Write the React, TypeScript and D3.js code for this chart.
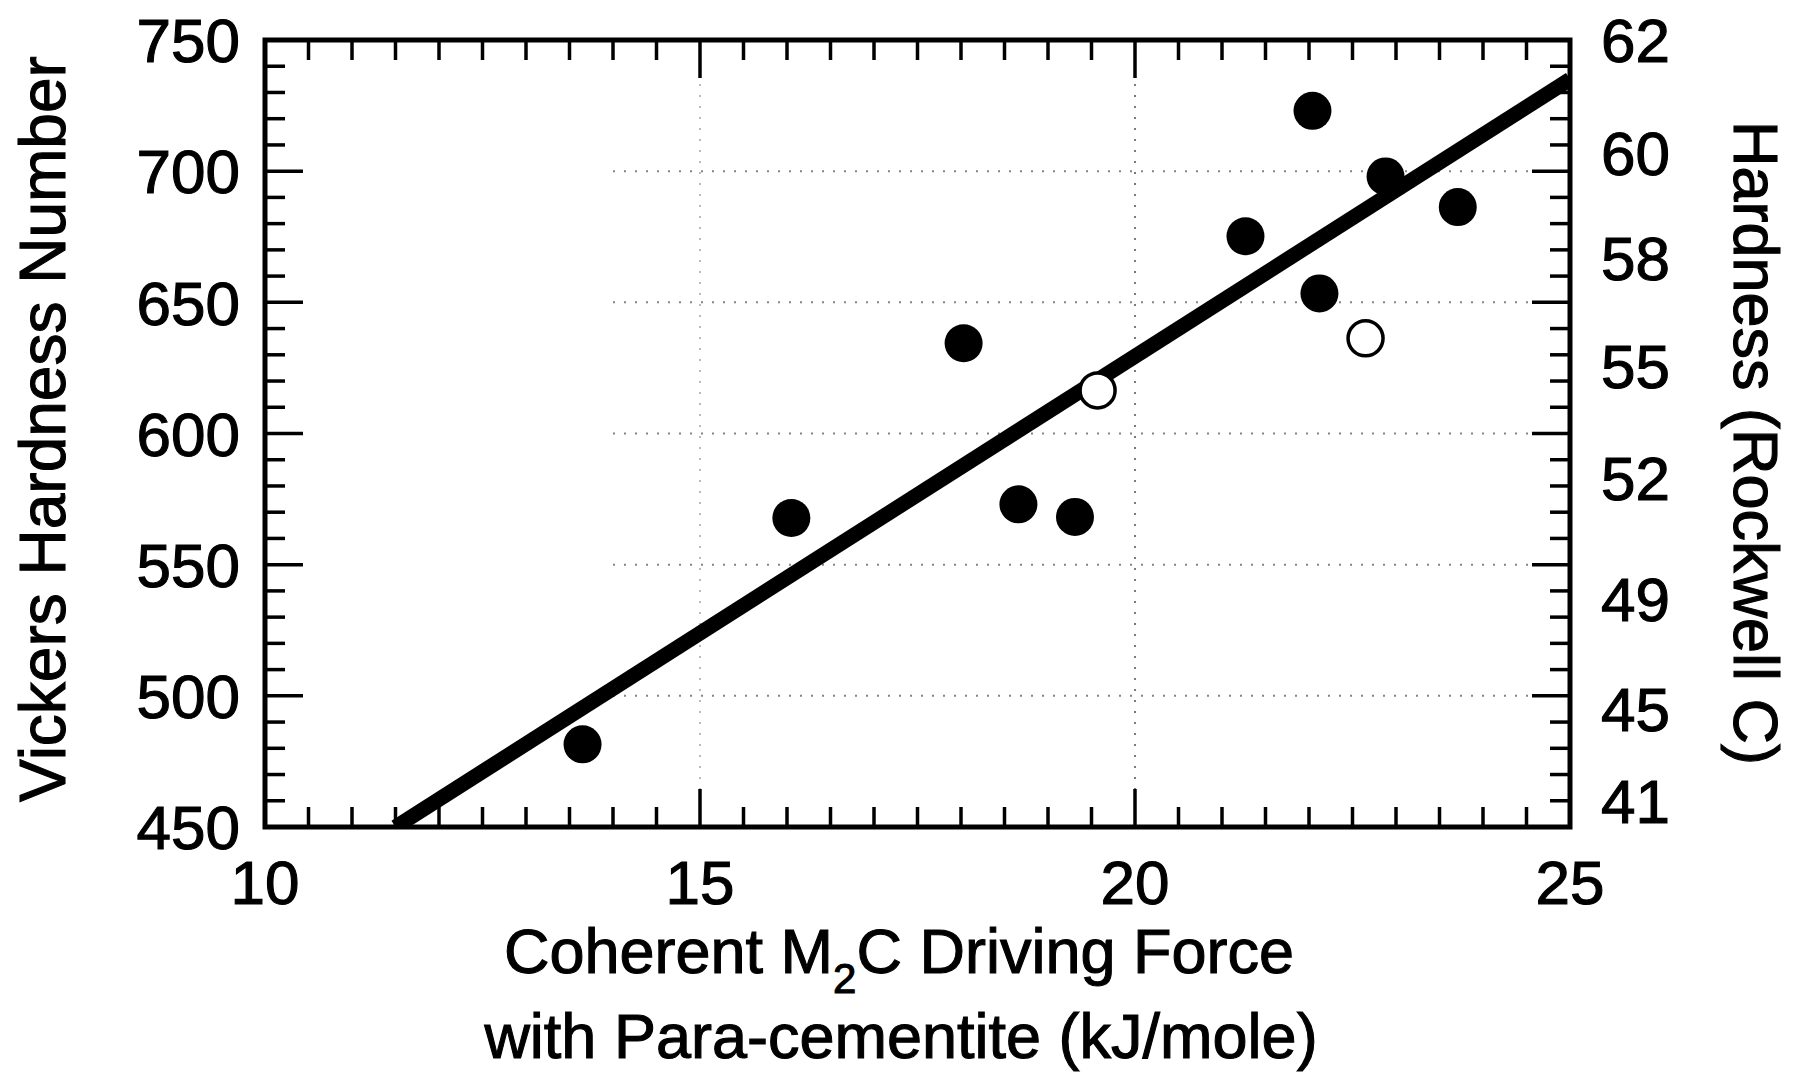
import React from 'react';
import * as d3 from 'd3';

const W = 1794;
const H = 1077;
const PLOT = { left: 265, right: 1570, top: 40, bottom: 827 };

const xDomain: [number, number] = [10, 25];
const yDomain: [number, number] = [450, 750];
const xTickLabels = [10, 15, 20, 25];
const yTickLabels = [450, 500, 550, 600, 650, 700, 750];

// solid points
const filledX = [13.65, 16.05, 18.03, 18.66, 19.31, 21.27, 22.04, 22.12, 22.88, 23.71];
const filledY = [481.5, 567.8, 634.4, 573.0, 568.2, 675.2, 723.0, 653.4, 698.0, 686.3];
// open points
const openX = [19.57, 22.65];
const openY = [616.4, 636.3];
// regression line end points
const fitX = [11.5, 25];
const fitY = [450, 735];

// right axis (Rockwell C) labels and the Vickers value they sit at
const rockwellLabels = ['62', '60', '58', '55', '52', '49', '45', '41'];
const rockwellAtVickers = [750, 707, 667, 626, 583, 537, 495, 460];

const gridY = [500, 550, 600, 650, 700];
const gridX = [15, 20];

const FONT = '"Liberation Sans", Arial, Helvetica, sans-serif';

export default function App() {
  const x = d3.scaleLinear().domain(xDomain).range([PLOT.left, PLOT.right]);
  const y = d3.scaleLinear().domain(yDomain).range([PLOT.bottom, PLOT.top]);

  const xMinor = d3.range(xDomain[0], xDomain[1] + 0.001, 0.5);
  const yMinor = d3.range(yDomain[0], yDomain[1] + 0.001, 10);
  const isXMajor = (v: number) => Math.abs(v % 5) < 1e-6;
  const isYMajor = (v: number) => Math.abs(v % 50) < 1e-6;

  const line = d3
    .line<number>()
    .x((_, i) => x(fitX[i]))
    .y((_, i) => y(fitY[i]));

  const tickW = 3.5;
  const minorLen = 20;
  const majorLen = 38;
  const textStroke = { stroke: '#000', strokeWidth: 1.1 };

  return (
    <svg
      width={W}
      height={H}
      style={{ position: 'absolute', left: 0, top: 0, background: '#fff' }}
      fontFamily={FONT}
    >
      <rect x={0} y={0} width={W} height={H} fill="#fff" />
      <defs>
        <clipPath id="plotclip">
          <rect
            x={PLOT.left}
            y={PLOT.top}
            width={PLOT.right - PLOT.left}
            height={PLOT.bottom - PLOT.top}
          />
        </clipPath>
      </defs>

      {/* dotted grid */}
      <g stroke="#222" strokeWidth={2} strokeDasharray="2 9">
        {gridY.map((v) => (
          <line key={'gy' + v} x1={x(14)} x2={x(25)} y1={y(v)} y2={y(v)} opacity={0.55} />
        ))}
        {gridX.map((v) => (
          <line
            key={'gx' + v}
            x1={x(v)}
            x2={x(v)}
            y1={y(750)}
            y2={y(450)}
            opacity={v === 20 ? 0.6 : 0.3}
          />
        ))}
      </g>

      {/* ticks */}
      <g stroke="#000" strokeWidth={tickW}>
        {xMinor.map((v) => {
          const len = isXMajor(v) ? majorLen : minorLen;
          return (
            <g key={'xt' + v}>
              <line x1={x(v)} x2={x(v)} y1={PLOT.bottom} y2={PLOT.bottom - len} />
              <line x1={x(v)} x2={x(v)} y1={PLOT.top} y2={PLOT.top + len} />
            </g>
          );
        })}
        {yMinor.map((v) => {
          const len = isYMajor(v) ? majorLen : minorLen;
          return (
            <g key={'yt' + v}>
              <line x1={PLOT.left} x2={PLOT.left + len} y1={y(v)} y2={y(v)} />
              <line x1={PLOT.right} x2={PLOT.right - len} y1={y(v)} y2={y(v)} />
            </g>
          );
        })}
      </g>

      {/* frame */}
      <rect
        x={PLOT.left}
        y={PLOT.top}
        width={PLOT.right - PLOT.left}
        height={PLOT.bottom - PLOT.top}
        fill="none"
        stroke="#000"
        strokeWidth={5}
      />

      {/* regression line */}
      <path
        d={line(fitX) || ''}
        stroke="#000"
        strokeWidth={15}
        fill="none"
        clipPath="url(#plotclip)"
      />

      {/* open circles */}
      {openX.map((v, i) => (
        <circle key={'o' + i} cx={x(v)} cy={y(openY[i])} r={17.5} fill="#fff" stroke="#000" strokeWidth={3.5} />
      ))}
      {/* filled circles */}
      {filledX.map((v, i) => (
        <circle key={'f' + i} cx={x(v)} cy={y(filledY[i])} r={19} fill="#000" />
      ))}

      {/* left tick labels */}
      <g fontSize={62} fill="#000" textAnchor="end" {...textStroke}>
        {yTickLabels.map((v) => (
          <text key={'yl' + v} x={240} y={y(v)} dy="0.36em">
            {v}
          </text>
        ))}
      </g>

      {/* right tick labels */}
      <g fontSize={62} fill="#000" textAnchor="start" {...textStroke}>
        {rockwellLabels.map((t, i) => (
          <text key={'rl' + t} x={1601} y={y(rockwellAtVickers[i])} dy="0.36em">
            {t}
          </text>
        ))}
      </g>

      {/* bottom tick labels */}
      <g fontSize={62} fill="#000" textAnchor="middle" {...textStroke}>
        {xTickLabels.map((v) => (
          <text key={'xl' + v} x={x(v)} y={904}>
            {v}
          </text>
        ))}
      </g>

      {/* x-axis title */}
      <text x={899} y={973} fontSize={63} textAnchor="middle" fill="#000" {...textStroke}>
        Coherent M
        <tspan fontSize={42} dy={20}>2</tspan>
        <tspan dy={-20}>C Driving Force</tspan>
      </text>
      <text x={901} y={1058} fontSize={63} textAnchor="middle" fill="#000" {...textStroke}>
        with Para-cementite (kJ/mole)
      </text>

      {/* left y-axis title */}
      <text
        transform={`translate(65, ${(51 + 807) / 2}) rotate(-90)`}
        fontSize={64}
        textAnchor="middle"
        fill="#000"
        {...textStroke}
      >
        Vickers Hardness Number
      </text>

      {/* right y-axis title */}
      <text
        transform={`translate(1734, ${(97 + 789) / 2}) rotate(90)`}
        fontSize={63}
        textAnchor="middle"
        fill="#000"
        {...textStroke}
      >
        Hardness (Rockwell C)
      </text>
    </svg>
  );
}
